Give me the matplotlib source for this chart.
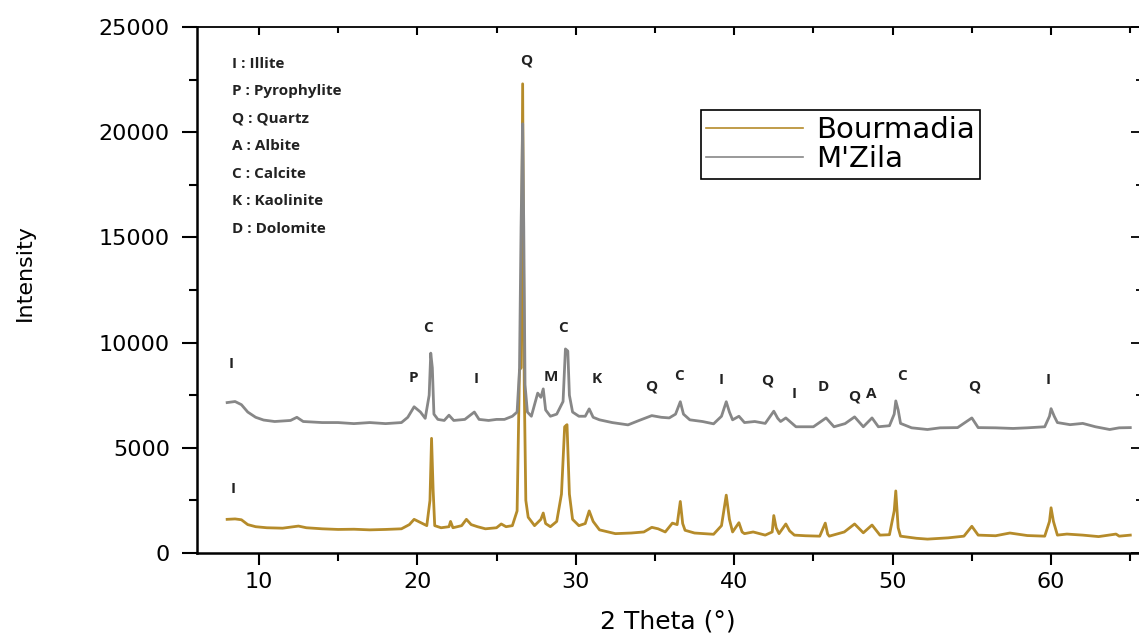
import matplotlib
matplotlib.use('Agg')
import matplotlib.pyplot as plt
from matplotlib.ticker import MultipleLocator

# XRD patterns (2 theta in degrees, intensity in counts)
bour_2t = [8.0, 8.5, 8.9, 9.3, 9.8, 10.5, 11.5, 12.5, 13.0, 14.0, 15.0, 16.0, 17.0, 18.0,
           19.0, 19.5, 19.8, 20.2, 20.6, 20.8, 20.9, 21.0, 21.1, 21.5, 22.0, 22.1, 22.25,
           22.8, 23.1, 23.4, 23.8, 24.3, 25.0, 25.3, 25.6, 26.0, 26.3, 26.45, 26.55, 26.65,
           26.75, 26.85, 27.0, 27.4, 27.8, 27.95, 28.1, 28.4, 28.8, 29.1, 29.3, 29.45, 29.6,
           29.8, 30.2, 30.6, 30.85, 31.1, 31.5, 32.5, 33.5, 34.3, 34.8, 35.2, 35.65, 36.1,
           36.4, 36.6, 36.75, 36.9, 37.5, 38.7, 39.2, 39.5, 39.7, 39.9, 40.3, 40.5, 40.65,
           41.2, 41.96, 42.4, 42.5, 42.65, 42.83, 43.26, 43.5, 43.8, 44.5, 45.4, 45.75, 45.9,
           46.0, 46.95, 47.6, 48.15, 48.7, 49.2, 49.8, 50.1, 50.2, 50.35, 50.5, 51.5, 52.2,
           53.5, 54.5, 55.0, 55.4, 56.5, 57.4, 58.5, 59.6, 59.9, 60.0, 60.15, 60.4, 61.0,
           62.0, 63.0, 64.1, 64.3, 65.0]
bour_int = [1600, 1620, 1580, 1350, 1250, 1200, 1180, 1280, 1200, 1150, 1120, 1130, 1100, 1120,
            1150, 1350, 1600, 1450, 1300, 2500, 5450, 3000, 1300, 1200, 1250, 1500, 1200,
            1300, 1600, 1350, 1250, 1150, 1200, 1380, 1250, 1300, 2000, 8700, 8800, 22300,
            8000, 2500, 1700, 1300, 1600, 1900, 1400, 1250, 1500, 2800, 6000, 6100, 2800,
            1600, 1300, 1400, 2000, 1500, 1100, 920, 950, 1000, 1220, 1150, 1000, 1420,
            1350, 2450, 1400, 1080, 950, 890, 1300, 2750, 1600, 1000, 1440, 1000, 920,
            1000, 850, 1000, 1780, 1200, 920, 1380, 1050, 850, 820, 800, 1420, 900,
            800, 1000, 1380, 960, 1330, 850, 870, 2000, 2950, 1200, 800, 700, 660,
            720, 800, 1270, 850, 820, 950, 830, 800, 1500, 2150, 1500, 850, 900,
            850, 780, 900, 800, 850]

mzila_2t = [8.0, 8.5, 8.9, 9.3, 9.8, 10.3, 11.0, 12.0, 12.4, 12.8, 14.0, 15.0, 16.0, 17.0,
            18.0, 19.0, 19.4, 19.8, 20.2, 20.5, 20.75, 20.85, 20.95, 21.05, 21.3, 21.7, 22.0,
            22.3, 23.0, 23.6, 23.9, 24.5, 25.0, 25.5, 26.0, 26.3, 26.45, 26.55, 26.65, 26.72,
            26.8, 26.95, 27.2, 27.6, 27.8, 27.95, 28.1, 28.4, 28.8, 29.2, 29.35, 29.5, 29.6,
            29.8, 30.2, 30.6, 30.85, 31.1, 31.5, 32.3, 33.3, 34.0, 34.8, 35.4, 35.9, 36.3,
            36.6, 36.8, 37.2, 38.0, 38.7, 39.2, 39.5, 39.7, 39.9, 40.3, 40.65, 41.3, 41.96,
            42.5, 42.75, 42.93, 43.26, 43.9, 45.0, 45.8, 46.3, 47.0, 47.6, 48.15, 48.7, 49.1,
            49.8, 50.1, 50.2, 50.35, 50.5, 51.2, 52.2, 53.0, 54.1, 55.0, 55.4, 56.5, 57.6,
            58.5, 59.6, 59.9, 60.0, 60.2, 60.4, 61.2, 62.0, 62.8, 63.7, 64.3, 65.0]
mzila_int = [7150, 7200, 7050, 6700, 6450, 6320, 6250, 6300, 6450, 6250, 6200, 6200, 6150, 6200,
             6150, 6200, 6450, 6950, 6700, 6400, 7500, 9500, 8800, 6600, 6350, 6300, 6550,
             6300, 6350, 6700, 6350, 6300, 6350, 6350, 6500, 6700, 8700, 15500, 20400, 15500,
             8000, 6700, 6500, 7600, 7400, 7800, 6800, 6500, 6600, 7200, 9700, 9600, 7500,
             6700, 6500, 6500, 6850, 6450, 6330, 6200, 6090, 6300, 6530, 6450, 6420, 6600,
             7190, 6600, 6330, 6250, 6140, 6500, 7190, 6700, 6330, 6500, 6200, 6250, 6160,
             6740, 6400, 6250, 6420, 6000, 6000, 6420, 6000, 6150, 6470, 6000, 6420, 6000,
             6050, 6600, 7230, 6800, 6160, 5950, 5870, 5950, 5960, 6420, 5960, 5950, 5920,
             5950, 6000, 6500, 6860, 6500, 6200, 6100, 6160, 6000, 5870, 5950, 5960]

# phase labels over the peaks
ann_labels = ['I', 'P', 'C', 'I', 'Q', 'M', 'C', 'K', 'Q', 'C', 'I', 'Q', 'I', 'D',
              'Q', 'A', 'C', 'Q', 'I', 'I']
ann_x = [8.26, 19.77, 20.7, 23.7, 26.85, 28.4, 29.2, 31.3, 34.75, 36.5, 39.2, 42.1, 43.8,
         45.6, 47.6, 48.65, 50.6, 55.16, 59.84, 8.39]
ann_y = [8980, 8300, 10700, 8270, 23400, 8360, 10700, 8270, 7900, 8400, 8200, 8200, 7560,
         7900, 7460, 7560, 8400, 7900, 8200, 3040]

key_lines = ['I : Illite', 'P : Pyrophylite', 'Q : Quartz', 'A : Albite', 'C : Calcite',
             'K : Kaolinite', 'D : Dolomite']

gold = '#b58b2a'
grey = '#878787'

plt.rcParams['font.family'] = ['DejaVu Sans']

fig = plt.figure(figsize=(11.39, 6.36), dpi=100)
ax = fig.add_axes([0.173, 0.1305, 0.827, 0.827])

ax.plot(bour_2t, bour_int, color=gold, lw=2.0, label='Bourmadia')
ax.plot(mzila_2t, mzila_int, color=grey, lw=2.0, label="M'Zila")

for lab, x, y in zip(ann_labels, ann_x, ann_y):
    ax.text(x, y, lab, ha='center', va='center', fontsize=11, fontweight='bold',
            family=['Open Sans', 'DejaVu Sans'], color='#222222')

for i, line in enumerate(key_lines):
    ax.text(0.037, 0.93 - i * 0.0523, line, transform=ax.transAxes, ha='left', va='center',
            fontsize=11, fontweight='bold', family=['Open Sans', 'DejaVu Sans'],
            color='#222222')

ax.set_xlim(6.1, 65.55)
ax.set_ylim(0, 25000)

ax.xaxis.set_major_locator(MultipleLocator(10))
ax.xaxis.set_minor_locator(MultipleLocator(5))
ax.yaxis.set_major_locator(MultipleLocator(5000))
ax.yaxis.set_minor_locator(MultipleLocator(2500))

# left / bottom ticks point outwards
ax.tick_params(axis='y', which='major', direction='out', length=10.5, width=1.5,
               labelsize=16, pad=9)
ax.tick_params(axis='y', which='minor', direction='out', length=5.5, width=1.5)
ax.tick_params(axis='x', which='major', direction='out', length=8.5, width=1.5,
               labelsize=16, pad=5)
ax.tick_params(axis='x', which='minor', direction='out', length=6, width=1.5)

# top / right ticks point inwards
sec_x = ax.secondary_xaxis('top')
sec_x.xaxis.set_major_locator(MultipleLocator(10))
sec_x.xaxis.set_minor_locator(MultipleLocator(5))
sec_x.tick_params(which='major', direction='in', length=6, width=1.5, labeltop=False)
sec_x.tick_params(which='minor', direction='in', length=4, width=1.5)
sec_x.spines['top'].set_linewidth(1.3)

sec_y = ax.secondary_yaxis('right')
sec_y.yaxis.set_major_locator(MultipleLocator(5000))
sec_y.yaxis.set_minor_locator(MultipleLocator(2500))
sec_y.tick_params(which='major', direction='in', length=6, width=1.3, labelright=False)
sec_y.tick_params(which='minor', direction='in', length=2.5, width=1.3)
sec_y.spines['right'].set_visible(False)

ax.spines['left'].set_linewidth(1.8)
ax.spines['bottom'].set_linewidth(1.8)
ax.spines['right'].set_visible(False)
ax.spines['top'].set_visible(False)

ax.set_xlabel('2 Theta (°)', fontsize=18)
ax.xaxis.set_label_coords(0.5, -0.108)
ax.set_ylabel('Intensity', fontsize=16)
ax.yaxis.set_label_coords(-0.172, 0.534)

leg = ax.legend(loc='upper left', bbox_to_anchor=(0.5345, 0.842), borderaxespad=0,
                fontsize=21, handlelength=3.3, handletextpad=0.45, labelspacing=0.05,
                borderpad=0.2, fancybox=False, framealpha=1, edgecolor='black')
leg.get_frame().set_linewidth(1.2)
for h in leg.get_lines():
    h.set_linewidth(1.2)

fig.savefig('out.png', dpi=100)
